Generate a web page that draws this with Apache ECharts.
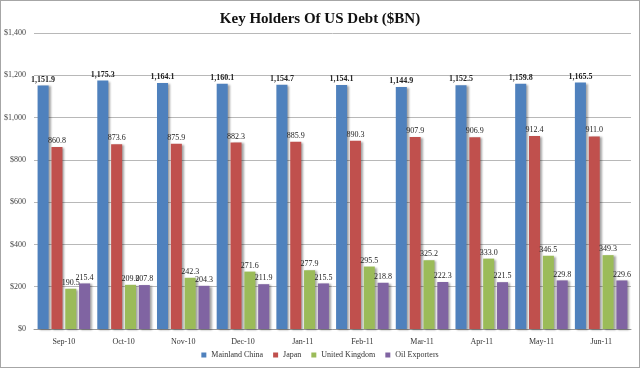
<!DOCTYPE html>
<html><head><meta charset="utf-8">
<script src="https://cdn.jsdelivr.net/npm/echarts@6/dist/echarts.min.js"></script>
<style>html,body{margin:0;padding:0;background:#fff}#c{width:640px;height:368px;box-sizing:border-box;border:1px solid #a6a6a6}</style>
</head><body><div id="c"></div>
<script>
const categories = ['Sep-10','Oct-10','Nov-10','Dec-10','Jan-11','Feb-11','Mar-11','Apr-11','May-11','Jun-11'];
const seriesNames = ['Mainland China','Japan','United Kingdom','Oil Exporters'];
const china = [1151.9,1175.3,1164.1,1160.1,1154.7,1154.1,1144.9,1152.5,1159.8,1165.5];
const japan = [860.8,873.6,875.9,882.3,885.9,890.3,907.9,906.9,912.4,911.0];
const uk = [190.5,209.0,242.3,271.6,277.9,295.5,325.2,333.0,346.5,349.3];
const oil = [215.4,207.8,204.3,211.9,215.5,218.8,222.3,221.5,229.8,229.6];
const colors = ['#4F81BD','#C0504D','#9BBB59','#8064A2'];
const font = '"Liberation Serif", "DejaVu Serif", serif';
const chart = echarts.init(document.getElementById('c'));
function fmtNum(v){ return v.toLocaleString('en-US',{minimumFractionDigits:1,maximumFractionDigits:1}); }
function mk(name, data, i, bold){
  return {
    name, type:'bar', data, barGap:'25%', barCategoryGap:'12%',
    itemStyle:{color:colors[i], shadowColor:'rgba(0,0,0,0.35)', shadowBlur:2, shadowOffsetX:2, shadowOffsetY:1},
    label:{show:true, position:'top', distance:2, fontFamily:font, fontSize:8, color:'#222', fontWeight: bold?'bold':'normal',
      formatter:p=>fmtNum(p.value)}
  };
}
chart.setOption({
  animation:false,
  title:{text:'Key Holders Of US Debt ($BN)', left:'center', top:6, textStyle:{fontFamily:font, fontSize:15, fontWeight:'bold', color:'#111'}},
  grid:{left:33, right:8, top:32, bottom:38, containLabel:false},
  legend:{bottom:3, left:'center', itemWidth:5, itemHeight:5, itemGap:10, icon:'rect',
    textStyle:{fontFamily:font, fontSize:8, color:'#333'}, data:seriesNames},
  xAxis:{type:'category', data:categories, axisTick:{show:false},
    axisLine:{lineStyle:{color:'#999'}},
    axisLabel:{fontFamily:font, fontSize:8, color:'#333', margin:9}},
  yAxis:{type:'value', min:0, max:1400, interval:200,
    axisLabel:{fontFamily:font, fontSize:8, color:'#444', formatter:v=>'$'+v.toLocaleString('en-US')},
    splitLine:{lineStyle:{color:'#b8b8b8', width:1}}},
  series:[mk(seriesNames[0],china,0,true), mk(seriesNames[1],japan,1), mk(seriesNames[2],uk,2), mk(seriesNames[3],oil,3)]
});
</script></body></html>
